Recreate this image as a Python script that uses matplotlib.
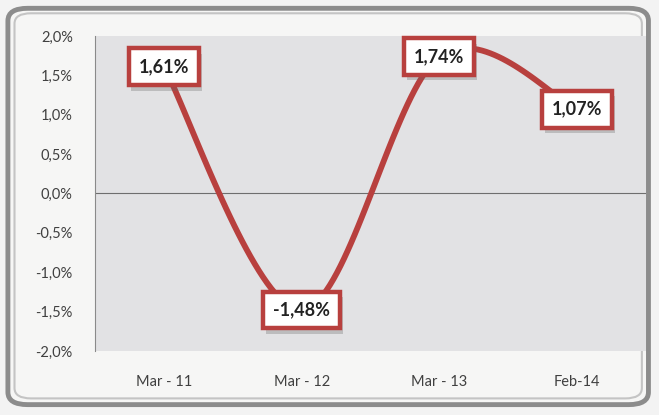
import numpy as np
import matplotlib.pyplot as plt
import matplotlib.patheffects as pe
from matplotlib.patches import FancyBboxPatch

# chart data
months = ['Mar - 11', 'Mar - 12', 'Mar - 13', 'Feb-14']
values = [1.61, -1.48, 1.74, 1.07]
value_labels = ['1,61%', '-1,48%', '1,74%', '1,07%']
y_ticks = [-2.0, -1.5, -1.0, -0.5, 0.0, 0.5, 1.0, 1.5, 2.0]

plt.rcParams['font.family'] = ['Lato', 'DejaVu Sans']

line_color = '#b8403e'

fig = plt.figure(figsize=(6.59, 4.15), dpi=100)
fig.patch.set_facecolor('#f3f3f3')

# outer rounded frame with a bevel look
frame = FancyBboxPatch((0.012, 0.025), 0.972, 0.955,
                       boxstyle='round,pad=0.0,rounding_size=0.03',
                       transform=fig.transFigure, facecolor='#f6f6f5',
                       edgecolor='#8c8c8c', linewidth=3.5, zorder=-5)
fig.patches.append(frame)
inner = FancyBboxPatch((0.022, 0.04), 0.952, 0.928,
                       boxstyle='round,pad=0.0,rounding_size=0.025',
                       transform=fig.transFigure, facecolor='none',
                       edgecolor='#c4c4c4', linewidth=1.5, zorder=-4)
fig.patches.append(inner)

ax = fig.add_axes([95 / 659, 1 - 351 / 415, (646 - 95) / 659, (351 - 36) / 415])
ax.set_zorder(1)
ax.set_facecolor('#e2e2e4')

x = np.arange(len(values))
ax.set_xlim(-0.5, len(values) - 0.5)
ax.set_ylim(-2.0, 2.0)

# smoothed line (Catmull-Rom through the data points, like Excel's smoothed line)
pts = np.column_stack([x, values])
pad = np.vstack([pts[0], pts, pts[-1]])
curve = []
for i in range(1, len(pad) - 2):
    p0, p1, p2, p3 = pad[i - 1], pad[i], pad[i + 1], pad[i + 2]
    for t in np.linspace(0, 1, 40):
        c = 0.5 * ((2 * p1) + (-p0 + p2) * t + (2 * p0 - 5 * p1 + 4 * p2 - p3) * t ** 2
                   + (-p0 + 3 * p1 - 3 * p2 + p3) * t ** 3)
        curve.append(c)
curve = np.array(curve)
ax.plot(curve[:, 0], curve[:, 1], color=line_color, linewidth=4.2,
        solid_capstyle='round', zorder=3)

ax.axhline(0, color='#6e6e6e', linewidth=0.8, zorder=2)

# data labels: white boxes with red border and a soft shadow
for xi, v, lab in zip(x, values, value_labels):
    t = ax.text(xi, v, lab, ha='center', va='center', fontsize=13, fontweight='bold',
                color='#222222', zorder=5,
                bbox=dict(boxstyle='square,pad=0.55', facecolor='white',
                          edgecolor=line_color, linewidth=3.2))
    t.get_bbox_patch().set_path_effects([
        pe.SimplePatchShadow(offset=(2, -4), shadow_rgbFace='#666666', alpha=0.3),
        pe.Normal()])

ax.set_xticks(x)
ax.set_xticklabels(months, fontsize=10.5, color='#404040')
ax.set_yticks(y_ticks)
ax.set_yticklabels([f'{t:.1f}%'.replace('.', ',') for t in y_ticks],
                   fontsize=10.5, color='#404040')
ax.tick_params(axis='x', length=0, pad=17)
ax.tick_params(axis='y', length=0, pad=16)

for side in ['top', 'right', 'bottom']:
    ax.spines[side].set_visible(False)
ax.spines['left'].set_color('#8a8a8a')
ax.spines['left'].set_linewidth(0.8)

plt.savefig('out.png', dpi=100, facecolor=fig.get_facecolor())
